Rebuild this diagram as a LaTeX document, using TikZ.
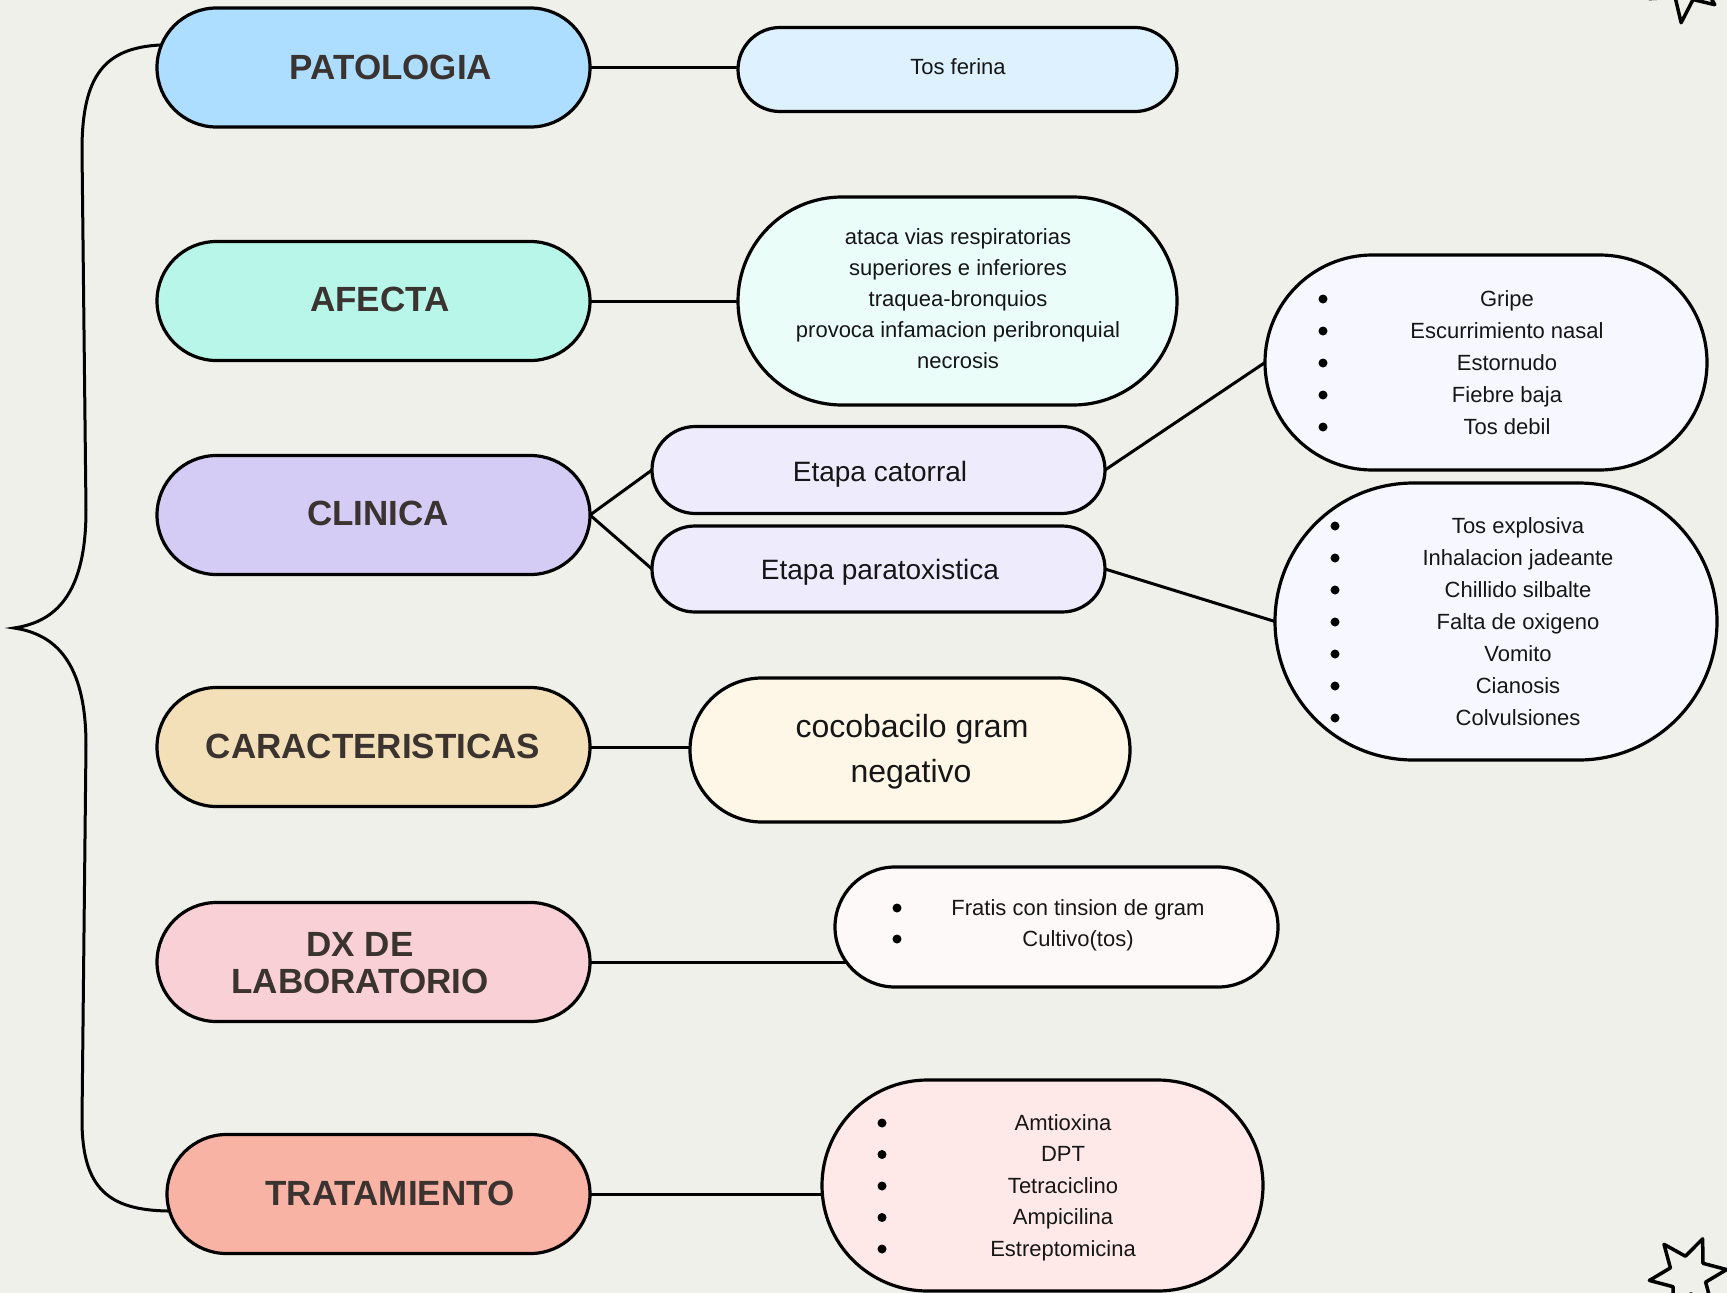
\documentclass[tikz,border=0pt]{standalone}
\usepackage{fontspec}
\setmainfont{Liberation Sans}
\usetikzlibrary{shapes.misc,backgrounds}
\definecolor{bg}{RGB}{239,240,234}
\definecolor{labc}{RGB}{58,51,48}
\definecolor{txt}{RGB}{22,22,22}
\definecolor{cPat}{RGB}{173,222,255}
\definecolor{cAfe}{RGB}{184,246,233}
\definecolor{cCli}{RGB}{213,204,246}
\definecolor{cCar}{RGB}{243,224,184}
\definecolor{cDx}{RGB}{248,208,214}
\definecolor{cTra}{RGB}{249,179,165}
\definecolor{dPat}{RGB}{221,241,254}
\definecolor{dAfe}{RGB}{234,253,249}
\definecolor{dEt}{RGB}{238,235,253}
\definecolor{dCli}{RGB}{247,247,255}
\definecolor{dCar}{RGB}{254,247,232}
\definecolor{dDx}{RGB}{254,249,249}
\definecolor{dTra}{RGB}{255,233,232}
\tikzset{
  pill/.style={rounded rectangle, draw=black, line width=3.2pt, inner sep=0pt, outer sep=0pt},
  lab/.style={font=\fontsize{35}{37}\selectfont\bfseries, text=labc, inner sep=0pt},
  item/.style={font=\fontsize{22}{26}\selectfont, text=txt, inner sep=0pt, anchor=base},
  bigitem/.style={font=\fontsize{28}{32}\selectfont, text=txt, inner sep=0pt, anchor=base},
  hugeitem/.style={font=\fontsize{32}{36}\selectfont, text=txt, inner sep=0pt, anchor=base},
  conn/.style={draw=black, line width=3pt},
  starline/.style={draw=black, line width=3.5pt, line join=round, fill=bg}
}
\begin{document}
\begin{tikzpicture}[x=1pt,y=-1pt]
\useasboundingbox (0,0) rectangle (1727,1293);

% main nodes
\node[pill, fill=cPat, minimum width=433, minimum height=119] (pat) at (373.5,67.5) {};
\node[pill, fill=cAfe, minimum width=433, minimum height=119] (afe) at (373.5,301) {};
\node[pill, fill=cCli, minimum width=433, minimum height=119] (cli) at (373.5,515) {};
\node[pill, fill=cCar, minimum width=433, minimum height=119] (car) at (373.5,747) {};
\node[pill, fill=cDx, minimum width=433, minimum height=119] (dx) at (373.5,962) {};
\node[pill, fill=cTra, minimum width=423, minimum height=119] (tra) at (378.5,1194) {};

\node[lab] (patT) at (391,67) {PATOLOGIA};
\node[lab] (afeT) at (380,299) {AFECTA};
\node[lab] (cliT) at (378,513) {CLINICA};
\node[lab] (carT) at (373,746) {CARACTERISTICAS};
\node[lab] (dxT1) at (360,944) {DX DE};
\node[lab] (dxT2) at (360,981) {LABORATORIO};
\node[lab] (traT) at (390,1193) {TRATAMIENTO};

% detail nodes
\node[pill, fill=dPat, minimum width=439, minimum height=84] (tos) at (957.5,69.5) {};
\node[pill, fill=dAfe, minimum width=439, minimum height=208] (afd) at (957.5,301) {};
\node[pill, fill=dEt, minimum width=453, minimum height=87] (et1) at (878.5,470) {};
\node[pill, fill=dEt, minimum width=453, minimum height=86] (et2) at (878.5,569) {};
\node[pill, fill=dCli, minimum width=442, minimum height=215] (catd) at (1486,362.5) {};
\node[pill, fill=dCli, minimum width=442, minimum height=277] (parad) at (1496,621.5) {};
\node[pill, fill=dCar, minimum width=440, minimum height=144] (card) at (910,750) {};
\node[pill, fill=dDx, minimum width=443, minimum height=120] (dxd) at (1056.5,927) {};
\node[pill, fill=dTra, minimum width=441, minimum height=211] (trad) at (1042.5,1185.5) {};

% texts
\node[item] (tosT) at (958,74) {Tos ferina};
\foreach \t [count=\i from 0] in {ataca vias respiratorias,superiores e inferiores,traquea-bronquios,provoca infamacion peribronquial,necrosis}
  \node[item] (afd-\i) at (958,{244+31*\i}) {\t};
\node[bigitem] (et1T) at (880,481) {Etapa catorral};
\node[bigitem] (et2T) at (880,579.5) {Etapa paratoxistica};
\node[hugeitem] (car1) at (912,737.5) {cocobacilo gram};
\node[hugeitem] (car2) at (911,782.5) {negativo};

\foreach \t [count=\i from 0] in {Gripe,Escurrimiento nasal,Estornudo,Fiebre baja,Tos debil} {
  \node[item] (cat-\i) at (1507,{306+32*\i}) {\t};
  \fill[black] (1323,{299+32*\i}) circle (4.5);
}
\foreach \t [count=\i from 0] in {Tos explosiva,Inhalacion jadeante,Chillido silbalte,Falta de oxigeno,Vomito,Cianosis,Colvulsiones} {
  \node[item] (par-\i) at (1518,{533+32*\i}) {\t};
  \fill[black] (1335,{526+32*\i}) circle (4.5);
}
\foreach \t [count=\i from 0] in {Fratis con tinsion de gram,Cultivo(tos)} {
  \node[item] (dxl-\i) at (1078,{915+31*\i}) {\t};
  \fill[black] (897,{908+31*\i}) circle (4.5);
}
\foreach \t [count=\i from 0] in {Amtioxina,DPT,Tetraciclino,Ampicilina,Estreptomicina} {
  \node[item] (tral-\i) at (1063,{1130+31.5*\i}) {\t};
  \fill[black] (882,{1123+31.5*\i}) circle (4.5);
}

% background, brace and connectors
\coordinate (btop) at (160,45);
\coordinate (btip) at (14,628);
\coordinate (bbot) at (168,1211);
\begin{pgfonlayer}{background}
\fill[bg] (0,0) rectangle (1727,1293);
\draw[conn] (btop) .. controls (105,48) and (82,75) .. (82,150) -- (86,510)
  .. controls (86,595) and (55,622) .. (btip)
  .. controls (55,634) and (86,662) .. (86,745) -- (82,1120)
  .. controls (82,1190) and (110,1210) .. (bbot);
\draw[conn] (pat.east) -- (tos.west |- pat.east);
\draw[conn] (afe.east) -- (afd.west |- afe.east);
\draw[conn] (cli.east) -- (et1.west);
\draw[conn] (cli.east) -- (et2.west);
\draw[conn] (et1.east) -- (catd.west);
\draw[conn] (et2.east) -- (parad.west);
\draw[conn] (car.east) -- (card.west |- car.east);
\draw[conn] (dx.east) -- ([xshift=14pt]dxd.west |- dx.east);
\draw[conn] (tra.east) -- ([xshift=6pt]trad.west |- tra.east);
\end{pgfonlayer}

% stars
\begin{scope}
\clip (0,0) rectangle (1727,1293);
\begin{scope}[shift={(1688,1275)}, yscale=-1]
\draw[starline] (8:39) -- (38:19) -- (68:39) -- (98:19) -- (128:39) -- (158:19) -- (188:39) -- (218:19) -- (248:39) -- (278:19) -- (308:39) -- (338:19) -- cycle;
\end{scope}
\begin{scope}[shift={(1686,-17)}, yscale=-1]
\draw[starline] (263:40) -- (293:18) -- (323:36) -- (353:18) -- (23:40) -- (53:18) -- (83:40) -- (113:18) -- (143:40) -- (173:18) -- (203:40) -- (233:18) -- cycle;
\end{scope}
\end{scope}
\end{tikzpicture}
\end{document}
